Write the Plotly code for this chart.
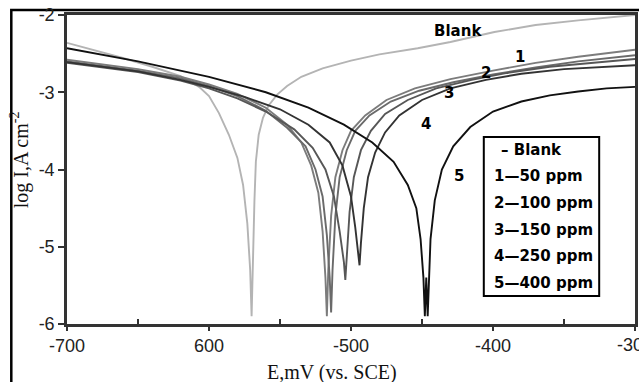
import plotly.graph_objects as go

# ---- data ----
e_blank = [-700, -680, -660, -640, -620, -607, -600, -593, -586, -580, -576, -573, -571, -570,
           -569, -568, -567, -565, -562, -558, -552, -545, -535, -520, -500, -480, -453, -430,
           -399, -370, -340, -300]
i_blank = [-2.36, -2.46, -2.56, -2.67, -2.79, -2.93, -3.05, -3.27, -3.55, -3.85, -4.20, -4.70, -5.30, -5.90,
           -5.00, -4.40, -3.90, -3.55, -3.33, -3.17, -3.03, -2.92, -2.80, -2.69, -2.59, -2.51, -2.43, -2.35,
           -2.22, -2.13, -2.07, -2.00]

e_c1 = [-700, -650, -620, -600, -580, -560, -545, -535, -528, -523, -520, -518, -517,
        -516, -514, -511, -506, -500, -490, -475, -455, -430, -400, -370, -340, -300]
i_c1 = [-2.58, -2.70, -2.80, -2.90, -3.02, -3.20, -3.42, -3.65, -3.95, -4.30, -4.80, -5.40, -5.90,
        -5.30, -4.60, -4.10, -3.75, -3.50, -3.30, -3.10, -2.95, -2.83, -2.72, -2.62, -2.54, -2.45]

e_c2 = [-700, -650, -620, -600, -580, -560, -545, -532, -525, -520, -517, -515, -514,
        -513, -511, -508, -503, -497, -487, -472, -452, -428, -400, -370, -340, -300]
i_c2 = [-2.60, -2.72, -2.82, -2.92, -3.05, -3.24, -3.46, -3.70, -4.00, -4.35, -4.85, -5.40, -5.85,
        -5.30, -4.60, -4.10, -3.75, -3.50, -3.30, -3.12, -2.98, -2.87, -2.77, -2.68, -2.60, -2.52]

e_c3 = [-700, -650, -620, -600, -580, -560, -540, -527, -518, -512, -508, -505, -504,
        -503, -501, -498, -493, -486, -476, -460, -440, -415, -390, -360, -330, -300]
i_c3 = [-2.62, -2.74, -2.85, -2.95, -3.08, -3.25, -3.48, -3.72, -4.00, -4.35, -4.80, -5.20, -5.43,
        -5.10, -4.55, -4.10, -3.75, -3.50, -3.28, -3.10, -2.95, -2.84, -2.75, -2.67, -2.62, -2.57]

e_c4 = [-700, -650, -620, -600, -575, -550, -530, -515, -506, -500, -497, -495, -494,
        -493, -491, -488, -483, -476, -466, -450, -430, -405, -380, -350, -320, -300]
i_c4 = [-2.61, -2.73, -2.84, -2.93, -3.06, -3.22, -3.42, -3.65, -3.95, -4.35, -4.75, -5.05, -5.24,
        -4.95, -4.50, -4.10, -3.78, -3.52, -3.30, -3.10, -2.95, -2.84, -2.76, -2.70, -2.67, -2.65]

e_c5 = [-700, -650, -600, -560, -530, -505, -485, -470, -460, -454, -451, -449, -448,
        -447, -446, -444, -441, -436, -428, -416, -400, -380, -360, -340, -320, -300]
i_c5 = [-2.43, -2.60, -2.80, -3.00, -3.20, -3.42, -3.65, -3.90, -4.20, -4.50, -4.90, -5.40, -5.90,
        -5.40, -5.90, -4.90, -4.40, -4.00, -3.70, -3.45, -3.25, -3.12, -3.04, -2.99, -2.95, -2.93]

curve_names = ["Blank", "1", "2", "3", "4", "5"]
curve_colors = ["#b4b4b4", "#7c7c7c", "#6a6a6a", "#575757", "#333333", "#111111"]

legend_lines = ["\u2013 Blank", "1\u201450 ppm", "2\u2014100 ppm", "3\u2014150 ppm",
                "4\u2014250 ppm", "5\u2014400 ppm"]

x_tickvals = [-700, -600, -500, -400, -300]
x_ticktext = ["-700", "600", "-500", "-400", ""]
x_last_label = "-300"
y_tickvals = [-2, -3, -4, -5, -6]
y_ticktext = ["-2", "-3", "-4", "-5", "-6"]

# label anchor positions (data coords)
label_pos = {"Blank": (-424.7, -2.21), "1": (-381.3, -2.54), "2": (-405.1, -2.75),
             "3": (-431.0, -3.01), "4": (-447.1, -3.41), "5": (-424.0, -4.08)}

# ---- figure ----
W, H = 639, 382
L, R, T, B = 67, 1, 15, 58
fig = go.Figure()
series = [(e_blank, i_blank), (e_c1, i_c1), (e_c2, i_c2), (e_c3, i_c3), (e_c4, i_c4), (e_c5, i_c5)]
for (e, i), name, col in zip(series, curve_names, curve_colors):
    fig.add_trace(go.Scatter(x=e, y=i, mode="lines", name=name,
                             line=dict(color=col, width=1.9), showlegend=False))

pw = W - L - R
ph = H - T - B

def px(xpix):
    return (xpix - L) / pw

def py(ypix):
    return (H - B - ypix) / ph

# outer frame of the figure
fig.add_shape(type="rect", xref="paper", yref="paper",
              x0=px(11), x1=px(660), y0=py(400), y1=py(10),
              line=dict(color="black", width=2.5), layer="below")

# legend box
fig.add_shape(type="rect", xref="paper", yref="paper",
              x0=px(486), x1=px(602), y0=py(296), y1=py(137),
              line=dict(color="black", width=2), fillcolor="white", layer="above")
leg_y = [150, 176, 203, 230, 256, 283]
for txt, yy in zip(legend_lines, leg_y):
    xx = 501 if txt.startswith("\u2013") else 494
    fig.add_annotation(xref="paper", yref="paper", x=px(xx), y=py(yy), text="<b>" + txt + "</b>",
                       showarrow=False, xanchor="left", yanchor="middle",
                       font=dict(family="DejaVu Sans", size=15, color="black"))

for name in curve_names:
    xv, yv = label_pos[name]
    fig.add_annotation(x=xv, y=yv, text="<b>" + name + "</b>", showarrow=False,
                       font=dict(family="DejaVu Sans", size=15, color="black"))

# last x tick label, cut by the picture edge as in the original
fig.add_annotation(xref="paper", yref="paper", x=px(638), y=py(345), text=x_last_label,
                   showarrow=False, xanchor="center", yanchor="middle",
                   font=dict(family="Liberation Sans", size=18, color="#222"))

# axis titles
fig.add_annotation(xref="paper", yref="paper", x=px(333), y=py(372), text="E,mV (vs. SCE)",
                   showarrow=False, xanchor="center", yanchor="middle",
                   font=dict(family="Liberation Serif", size=20, color="#111"))
fig.add_annotation(xref="paper", yref="paper", x=px(19), y=py(160), text="log I,A cm<sup>-2</sup>",
                   showarrow=False, textangle=-90, xanchor="center", yanchor="middle",
                   font=dict(family="Liberation Serif", size=20, color="#111"))

axis_common = dict(showline=True, linecolor="#333", linewidth=2.5, mirror=True,
                   showgrid=False, zeroline=False, ticks="outside",
                   tickcolor="#333", tickwidth=2,
                   tickfont=dict(family="Liberation Sans", size=18, color="#222"))
fig.update_xaxes(range=[-700, -300], tickvals=x_tickvals, ticktext=x_ticktext, ticklen=4,
                 minor=dict(tickvals=[-650, -550, -450, -350], ticks="inside", ticklen=5,
                            tickcolor="#333", tickwidth=2),
                 **axis_common)
fig.update_yaxes(range=[-6, -2], tickvals=y_tickvals, ticktext=y_ticktext, ticklen=6, **axis_common)

fig.update_layout(width=W, height=H, margin=dict(l=L, r=R, t=T, b=B),
                  paper_bgcolor="white", plot_bgcolor="white")

fig.write_html("out.html")
